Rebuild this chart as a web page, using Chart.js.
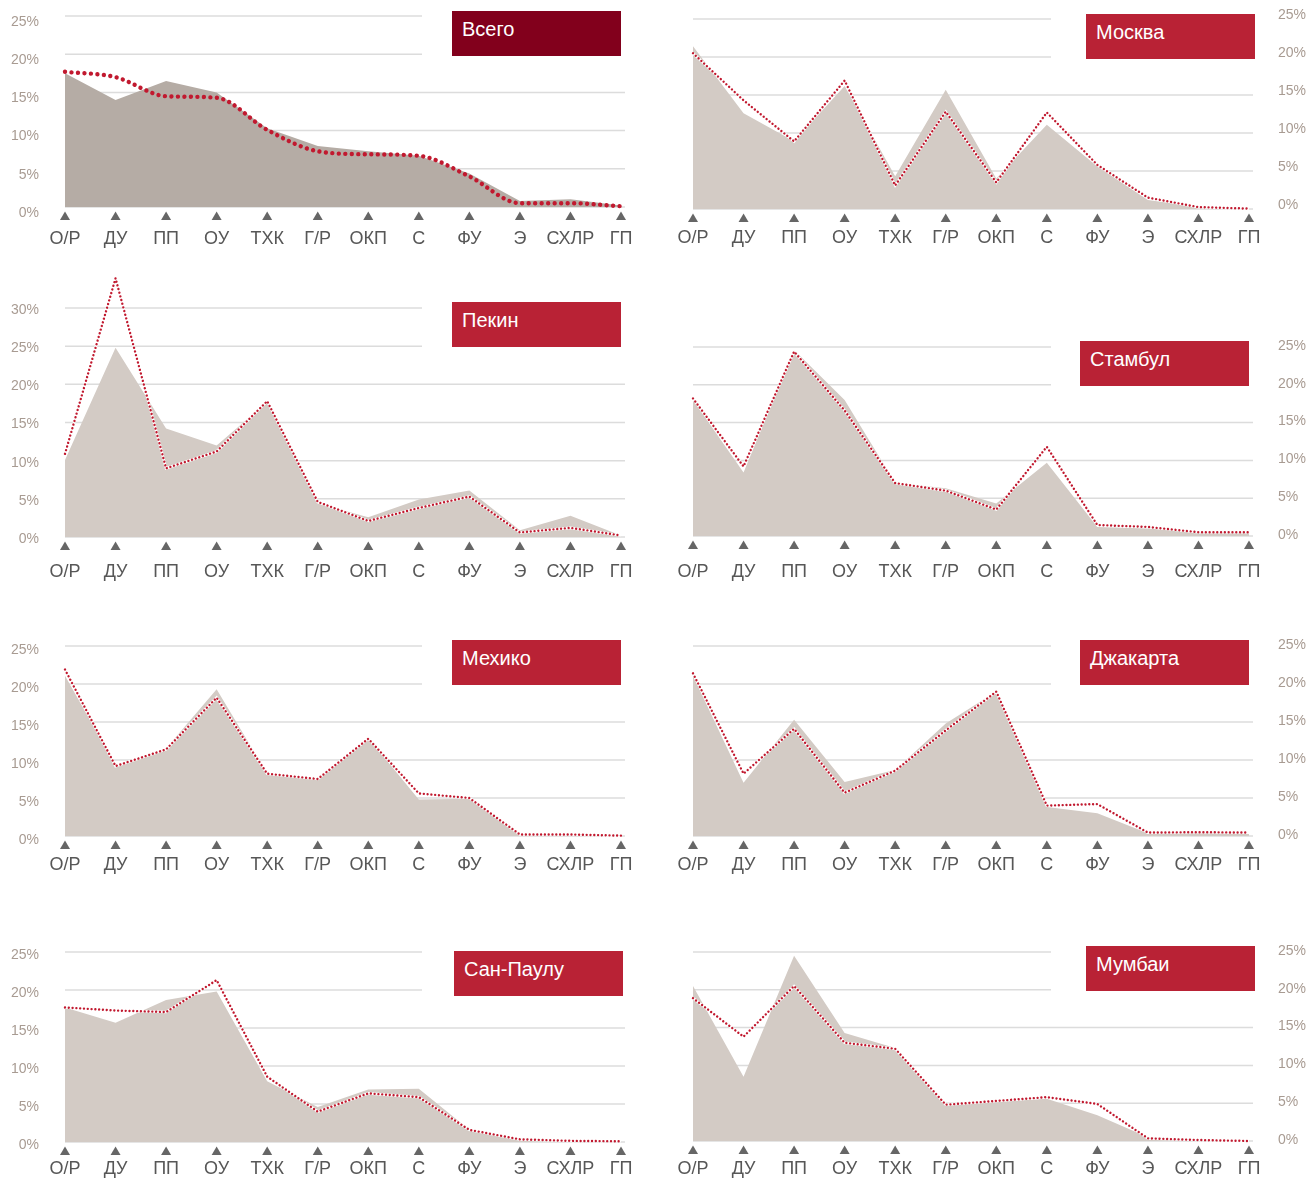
<!DOCTYPE html>
<html lang="ru">
<head>
<meta charset="utf-8">
<title>Структура занятости по городам</title>
<script src="https://cdn.jsdelivr.net/npm/chart.js@4.4.1/dist/chart.umd.min.js"></script>
<style>
  body { margin: 0; background: #fff; width: 1309px; height: 1178px; position: relative; overflow: hidden;
         font-family: "Liberation Sans", Arial, sans-serif; }
  canvas { position: absolute; }
  .tag { position: absolute; width: 169px; height: 45px; box-sizing: border-box; padding: 8px 0 0 10px;
         color: #fff; font-size: 20px; line-height: 20px; background: #b92235; }
</style>
</head>
<body>
<script>
// категории по оси X
const cats = ["О/Р", "ДУ", "ПП", "ОУ", "ТХК", "Г/Р", "ОКП", "С", "ФУ", "Э", "СХЛР", "ГП"];

// заливка (area) и пунктир (line), %
const totalArea    = [17.5, 14.0, 16.5, 15.0, 10.3, 8.0, 7.3, 6.7, 4.4, 0.8, 1.0, 0.2];
const totalLine    = [17.7, 17.0, 14.5, 14.3, 10.1, 7.3, 6.9, 6.7, 4.0, 0.5, 0.5, 0.1];
const moscowArea   = [21.4, 12.6, 8.9, 16.2, 4.3, 15.7, 4.0, 11.1, 5.6, 1.2, 0.25, 0];
const moscowLine   = [20.5, 14.3, 8.9, 16.9, 3.1, 12.8, 3.5, 12.7, 5.8, 1.5, 0.25, 0.05];
const beijingArea  = [10.1, 24.8, 14.2, 12.0, 17.7, 4.4, 2.6, 4.9, 6.1, 0.9, 2.8, 0.2];
const beijingLine  = [10.9, 33.9, 9.0, 11.2, 17.8, 4.6, 2.1, 3.8, 5.3, 0.6, 1.2, 0.2];
const istanbulArea = [18.0, 8.4, 24.6, 18.0, 7.0, 6.3, 4.3, 9.7, 1.2, 1.0, 0.6, 0.4];
const istanbulLine = [18.2, 9.2, 24.4, 16.6, 7.0, 6.0, 3.5, 11.8, 1.45, 1.2, 0.5, 0.5];
const mexicoArea   = [21.1, 9.3, 11.5, 19.3, 8.2, 7.5, 12.9, 4.8, 4.9, 0.1, 0, 0];
const mexicoLine   = [21.9, 9.2, 11.4, 18.2, 8.2, 7.5, 12.8, 5.6, 5.0, 0.2, 0.2, 0.05];
const jakartaArea  = [21.1, 7.0, 15.3, 7.1, 8.7, 14.8, 19.0, 3.8, 3.0, 0.35, 0.45, 0.25];
const jakartaLine  = [21.4, 8.2, 14.1, 5.7, 8.6, 13.9, 19.0, 4.0, 4.2, 0.45, 0.5, 0.45];
const saoPauloArea = [17.7, 15.7, 18.7, 19.8, 8.0, 4.6, 6.9, 7.0, 1.6, 0.45, 0.2, 0.05];
const saoPauloLine = [17.7, 17.3, 17.1, 21.3, 8.6, 4.0, 6.4, 5.9, 1.6, 0.35, 0.15, 0.1];
const mumbaiArea   = [20.5, 8.5, 24.5, 14.3, 12.3, 4.9, 5.2, 5.6, 3.4, 0.5, 0.2, 0.05];
const mumbaiLine   = [18.9, 13.8, 20.5, 13.0, 12.2, 4.8, 5.3, 5.8, 4.9, 0.35, 0.13, 0.0];

Chart.defaults.font.family = '"Liberation Sans", Arial, sans-serif';

// сетка (верхние линии обрезаны перед плашкой) и треугольники под осью
const decor = {
  id: "decor",
  beforeDatasetsDraw(chart, args, opts) {
    const { ctx, chartArea: a, scales: { y } } = chart;
    ctx.save();
    ctx.strokeStyle = "#dcdcdc";
    ctx.lineWidth = 1.5;
    y.ticks.forEach(t => {
      const py = y.getPixelForValue(t.value);
      const end = t.value >= y.max - 5 ? opts.cut : a.right + 4;
      ctx.beginPath();
      ctx.moveTo(a.left, py);
      ctx.lineTo(end, py);
      ctx.stroke();
    });
    ctx.restore();
  },
  afterDatasetsDraw(chart) {
    const { ctx, scales: { x, y } } = chart;
    const base = y.getPixelForValue(0);
    ctx.save();
    ctx.fillStyle = "#666666";
    x.ticks.forEach((t, i) => {
      const px = x.getPixelForTick(i);
      ctx.beginPath();
      ctx.moveTo(px, base + 4.5);
      ctx.lineTo(px + 5, base + 13);
      ctx.lineTo(px - 5, base + 13);
      ctx.closePath();
      ctx.fill();
    });
    ctx.restore();
  }
};

const panels = [
  { title: "Всего", area: totalArea, line: totalLine, side: "left", top: 0, padTop: 16, zero: 207, xh: 45, xPad: 21, yOff: 6, max: 25,
    tag: [452, 11], tagColor: "#82001c", fill: "#b5aca5", smooth: true },
  { title: "Москва", area: moscowArea, line: moscowLine, side: "right", top: 0, padTop: 19, zero: 209, xh: 45, xPad: 18, yOff: -4, max: 25,
    tag: [1086, 14] },
  { title: "Пекин", area: beijingArea, line: beijingLine, side: "left", top: 265, padTop: 43, zero: 537, xh: 45, xPad: 24, yOff: 2, max: 30,
    tag: [452, 302] },
  { title: "Стамбул", area: istanbulArea, line: istanbulLine, side: "right", top: 300, padTop: 47, zero: 536, xh: 45, xPad: 25, yOff: -1, max: 25,
    tag: [1080, 341] },
  { title: "Мехико", area: mexicoArea, line: mexicoLine, side: "left", top: 600, padTop: 46, zero: 836, xh: 45, xPad: 18, yOff: 4, max: 25,
    tag: [452, 640] },
  { title: "Джакарта", area: jakartaArea, line: jakartaLine, side: "right", top: 600, padTop: 46, zero: 836, xh: 45, xPad: 18, yOff: -1, max: 25,
    tag: [1080, 640] },
  { title: "Сан-Паулу", area: saoPauloArea, line: saoPauloLine, side: "left", top: 900, padTop: 52, zero: 1142, xh: 36, xPad: 16, yOff: 3, max: 25,
    tag: [454, 951] },
  { title: "Мумбаи", area: mumbaiArea, line: mumbaiLine, side: "right", top: 900, padTop: 52, zero: 1141, xh: 37, xPad: 17, yOff: -1, max: 25,
    tag: [1086, 946] }
];

panels.forEach(p => {
  const left = p.side === "left" ? 0 : 650;
  const w = p.side === "left" ? 650 : 659;
  const h = p.zero - p.top + p.xh;
  const cv = document.createElement("canvas");
  cv.width = w; cv.height = h;
  cv.style.left = left + "px"; cv.style.top = p.top + "px";
  document.body.appendChild(cv);

  const tag = document.createElement("div");
  tag.className = "tag";
  tag.textContent = p.title;
  tag.style.left = p.tag[0] + "px";
  tag.style.top = p.tag[1] + "px";
  if (p.tagColor) tag.style.background = p.tagColor;
  document.body.appendChild(tag);

  const dotted = p.smooth
    ? { borderWidth: 4.4, borderDash: [0.001, 6.5], cubicInterpolationMode: "monotone" }
    : { borderWidth: 2.4, borderDash: [0.001, 3.8], tension: 0 };

  const datasets = [
    Object.assign({ data: p.line, borderColor: "#c1192f", borderCapStyle: "round", fill: false, pointRadius: 0, clip: false }, dotted),
    { data: p.line, borderColor: p.smooth ? "rgba(0,0,0,0)" : "#ffffff", borderWidth: 2.6, fill: false, pointRadius: 0, tension: 0, clip: false },
    { data: p.area, backgroundColor: p.fill || "#d3cbc5", borderWidth: 0, fill: "origin", pointRadius: 0, tension: 0, clip: false }
  ];

  new Chart(cv.getContext("2d"), {
    type: "line",
    data: { labels: cats, datasets },
    options: {
      responsive: false,
      animation: false,
      events: [],
      layout: {
        padding: p.side === "left"
          ? { top: p.padTop, right: 29, left: 0, bottom: 0 }
          : { top: p.padTop, right: 0, left: 43, bottom: 0 }
      },
      plugins: { legend: { display: false }, tooltip: { enabled: false },
                 decor: { cut: p.side === "left" ? 422 : 401 } },
      scales: {
        x: {
          // отступ подписей через tickLength, чтобы он не влиял на ширину области графика
          grid: { display: false, drawTicks: true, tickLength: p.xPad },
          border: { display: false },
          ticks: { color: "#575757", font: { size: 18 }, padding: 0, autoSkip: false, maxRotation: 0 },
          afterFit(s) { s.height = p.xh; }
        },
        y: {
          position: p.side,
          min: 0, max: p.max,
          grid: { display: false, drawTicks: true, tickLength: p.side === "left" ? 26 : 29 },
          border: { display: false },
          ticks: { stepSize: 5, color: "#a89b92", font: { size: 14 }, padding: 0,
                   labelOffset: p.yOff, callback: v => v + "%" },
          afterFit(s) { s.width = p.side === "left" ? 65 : 60; }
        }
      }
    },
    plugins: [decor]
  });
});
</script>
</body>
</html>
